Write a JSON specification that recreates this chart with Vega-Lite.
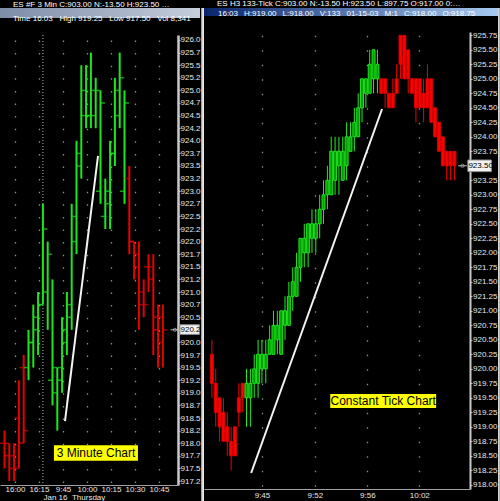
{
  "$schema": "https://vega.github.io/schema/vega-lite/v6.json",
  "background": "#000000",
  "padding": 0,
  "spacing": 0,
  "config": {
    "view": {"stroke": null, "fill": "#000000"},
    "font": "Liberation Sans",
    "axis": {"labelOverlap": false, "labelFlush": false, "labelBound": false}
  },
  "datasets": {
    "threeMin": [
      {"i": 0, "o": 918.0, "h": 918.25, "l": 917.5, "c": 917.75},
      {"i": 1, "o": 918.0, "h": 918.0, "l": 917.25, "c": 917.5},
      {"i": 2, "o": 917.75, "h": 918.0, "l": 917.25, "c": 917.5},
      {"i": 3, "o": 918.5, "h": 919.25, "l": 917.5, "c": 918.0},
      {"i": 4, "o": 919.5, "h": 919.75, "l": 918.0, "c": 918.25},
      {"i": 5, "o": 919.5, "h": 920.25, "l": 919.25, "c": 920.0},
      {"i": 6, "o": 920.0, "h": 920.75, "l": 919.5, "c": 920.5},
      {"i": 7, "o": 920.25, "h": 921.0, "l": 919.75, "c": 920.75},
      {"i": 8, "o": 920.75, "h": 922.75, "l": 920.75, "c": 922.25},
      {"i": 9, "o": 921.0, "h": 922.0, "l": 920.25, "c": 921.75},
      {"i": 10, "o": 919.25, "h": 921.25, "l": 918.75, "c": 919.5},
      {"i": 11, "o": 919.0, "h": 919.5, "l": 918.25, "c": 919.25},
      {"i": 12, "o": 919.5, "h": 920.5, "l": 919.0, "c": 920.25},
      {"i": 13, "o": 920.0, "h": 921.0, "l": 919.75, "c": 920.75},
      {"i": 14, "o": 920.5, "h": 922.75, "l": 920.25, "c": 922.5},
      {"i": 15, "o": 922.0, "h": 924.0, "l": 921.75, "c": 923.75},
      {"i": 16, "o": 923.5, "h": 925.5, "l": 923.25, "c": 925.0},
      {"i": 17, "o": 924.5, "h": 925.5, "l": 924.25, "c": 924.5},
      {"i": 18, "o": 924.5, "h": 925.75, "l": 924.25, "c": 925.0},
      {"i": 19, "o": 924.5, "h": 925.25, "l": 924.25, "c": 925.0},
      {"i": 20, "o": 923.0, "h": 925.0, "l": 922.75, "c": 924.75},
      {"i": 21, "o": 922.5, "h": 923.25, "l": 922.25, "c": 923.0},
      {"i": 22, "o": 922.75, "h": 924.0, "l": 922.25, "c": 923.75},
      {"i": 23, "o": 923.75, "h": 925.25, "l": 923.5, "c": 925.0},
      {"i": 24, "o": 924.5, "h": 925.75, "l": 924.25, "c": 925.25},
      {"i": 25, "o": 923.0, "h": 925.0, "l": 922.75, "c": 924.75},
      {"i": 26, "o": 923.25, "h": 923.5, "l": 921.75, "c": 922.0},
      {"i": 27, "o": 922.0, "h": 922.0, "l": 921.25, "c": 921.5},
      {"i": 28, "o": 921.75, "h": 922.0, "l": 920.25, "c": 920.75},
      {"i": 29, "o": 921.0, "h": 921.25, "l": 920.5, "c": 920.75},
      {"i": 30, "o": 921.5, "h": 921.75, "l": 921.0, "c": 921.25},
      {"i": 31, "o": 921.5, "h": 921.75, "l": 919.75, "c": 920.25},
      {"i": 32, "o": 920.5, "h": 920.75, "l": 919.5, "c": 920.0},
      {"i": 33, "o": 920.5, "h": 920.75, "l": 919.5, "c": 920.25}
    ],
    "tick133": [
      {"j": 0, "o": 920.25, "h": 920.5, "l": 919.5, "c": 919.75},
      {"j": 1, "o": 919.75, "h": 920.0, "l": 919.0, "c": 919.25},
      {"j": 2, "o": 919.5, "h": 919.5, "l": 918.75, "c": 919.0},
      {"j": 3, "o": 919.25, "h": 919.5, "l": 918.75, "c": 918.75},
      {"j": 4, "o": 919.0, "h": 919.25, "l": 918.5, "c": 918.75},
      {"j": 5, "o": 918.75, "h": 919.0, "l": 918.25, "c": 918.5},
      {"j": 6, "o": 919.0, "h": 919.0, "l": 918.5, "c": 918.5},
      {"j": 7, "o": 919.5, "h": 919.75, "l": 919.0, "c": 919.25},
      {"j": 8, "o": 919.75, "h": 919.75, "l": 919.25, "c": 919.5},
      {"j": 9, "o": 919.5, "h": 920.0, "l": 919.0, "c": 919.75},
      {"j": 10, "o": 919.5, "h": 920.0, "l": 919.0, "c": 919.75},
      {"j": 11, "o": 919.75, "h": 920.25, "l": 919.5, "c": 920.0},
      {"j": 12, "o": 919.75, "h": 920.5, "l": 919.5, "c": 920.25},
      {"j": 13, "o": 920.0, "h": 920.5, "l": 919.75, "c": 920.25},
      {"j": 14, "o": 920.0, "h": 920.5, "l": 919.75, "c": 920.25},
      {"j": 15, "o": 920.25, "h": 920.75, "l": 920.25, "c": 920.5},
      {"j": 16, "o": 920.25, "h": 921.0, "l": 920.25, "c": 920.75},
      {"j": 17, "o": 920.5, "h": 921.0, "l": 920.25, "c": 920.75},
      {"j": 18, "o": 920.25, "h": 921.0, "l": 920.25, "c": 921.0},
      {"j": 19, "o": 920.75, "h": 921.25, "l": 920.5, "c": 921.0},
      {"j": 20, "o": 920.75, "h": 921.5, "l": 920.75, "c": 921.25},
      {"j": 21, "o": 921.25, "h": 921.75, "l": 921.0, "c": 921.5},
      {"j": 22, "o": 921.25, "h": 922.0, "l": 921.25, "c": 921.75},
      {"j": 23, "o": 921.75, "h": 922.25, "l": 921.5, "c": 922.25},
      {"j": 24, "o": 922.0, "h": 922.5, "l": 921.75, "c": 922.25},
      {"j": 25, "o": 922.0, "h": 922.5, "l": 921.75, "c": 922.5},
      {"j": 26, "o": 922.25, "h": 922.75, "l": 922.0, "c": 922.5},
      {"j": 27, "o": 922.25, "h": 922.75, "l": 922.0, "c": 922.5},
      {"j": 28, "o": 922.5, "h": 923.0, "l": 922.25, "c": 922.75},
      {"j": 29, "o": 922.75, "h": 923.25, "l": 922.5, "c": 923.0},
      {"j": 30, "o": 923.0, "h": 923.5, "l": 922.75, "c": 923.25},
      {"j": 31, "o": 923.0, "h": 924.0, "l": 923.0, "c": 923.75},
      {"j": 32, "o": 923.25, "h": 924.0, "l": 923.0, "c": 923.75},
      {"j": 33, "o": 923.5, "h": 924.0, "l": 923.0, "c": 923.75},
      {"j": 34, "o": 923.25, "h": 924.0, "l": 923.25, "c": 923.75},
      {"j": 35, "o": 923.5, "h": 924.25, "l": 923.25, "c": 924.0},
      {"j": 36, "o": 923.75, "h": 924.25, "l": 923.75, "c": 924.0},
      {"j": 37, "o": 924.0, "h": 924.5, "l": 923.75, "c": 924.25},
      {"j": 38, "o": 924.0, "h": 924.75, "l": 924.0, "c": 924.5},
      {"j": 39, "o": 924.5, "h": 925.0, "l": 924.25, "c": 925.0},
      {"j": 40, "o": 924.75, "h": 925.0, "l": 924.5, "c": 925.0},
      {"j": 41, "o": 924.75, "h": 925.5, "l": 924.75, "c": 925.25},
      {"j": 42, "o": 925.0, "h": 925.5, "l": 924.75, "c": 925.5},
      {"j": 43, "o": 925.0, "h": 925.5, "l": 924.75, "c": 925.25},
      {"j": 44, "o": 925.0, "h": 925.0, "l": 924.75, "c": 924.75},
      {"j": 45, "o": 925.0, "h": 925.0, "l": 924.5, "c": 924.75},
      {"j": 46, "o": 924.75, "h": 924.75, "l": 924.5, "c": 924.5},
      {"j": 47, "o": 924.75, "h": 925.0, "l": 924.5, "c": 924.5},
      {"j": 48, "o": 925.0, "h": 925.25, "l": 924.75, "c": 924.75},
      {"j": 49, "o": 925.75, "h": 925.75, "l": 925.0, "c": 925.25},
      {"j": 50, "o": 925.75, "h": 925.75, "l": 925.0, "c": 925.0},
      {"j": 51, "o": 925.5, "h": 925.5, "l": 924.75, "c": 925.0},
      {"j": 52, "o": 925.0, "h": 925.0, "l": 924.75, "c": 924.75},
      {"j": 53, "o": 925.0, "h": 925.0, "l": 924.25, "c": 924.5},
      {"j": 54, "o": 925.0, "h": 925.0, "l": 924.5, "c": 924.5},
      {"j": 55, "o": 924.75, "h": 925.0, "l": 924.25, "c": 924.5},
      {"j": 56, "o": 925.0, "h": 925.25, "l": 924.5, "c": 924.5},
      {"j": 57, "o": 925.0, "h": 925.0, "l": 924.25, "c": 924.25},
      {"j": 58, "o": 924.5, "h": 924.5, "l": 924.0, "c": 924.0},
      {"j": 59, "o": 924.25, "h": 924.25, "l": 923.75, "c": 923.75},
      {"j": 60, "o": 924.0, "h": 924.0, "l": 923.5, "c": 923.5},
      {"j": 61, "o": 923.75, "h": 923.75, "l": 923.25, "c": 923.5},
      {"j": 62, "o": 923.75, "h": 923.75, "l": 923.25, "c": 923.5},
      {"j": 63, "o": 923.75, "h": 923.75, "l": 923.25, "c": 923.5}
    ]
  },
  "hconcat": [
    {
      "vconcat": [
        {
          "width": 200,
          "height": 10,
          "data": {"values": [{}]},
          "mark": {"type": "rect", "color": {"gradient": "linear", "x1": 0, "x2": 1, "y1": 0, "y2": 0, "stops": [{"offset": 0, "color": "#7d8ca8"}, {"offset": 1, "color": "#c6cedc"}]}},
          "title": {"text": "ES #F 3 Min C:903.00 N:-13.50 H:923.50 L:897.75 O:917.00", "limit": 160, "frame": "group", "anchor": "start", "orient": "top", "offset": -5, "baseline": "middle", "dx": 13, "fontSize": 8, "fontWeight": "normal", "color": "#ffffff"}
        },
        {
          "width": 178,
          "height": 450,
          "title": {"text": "Time 16:03\u00a0\u00a0\u00a0High 919.25\u00a0\u00a0\u00a0Low 917.50\u00a0\u00a0\u00a0Vol 8,341", "frame": "group", "anchor": "start", "orient": "top", "offset": 4, "baseline": "bottom", "dx": 13, "fontSize": 8, "fontWeight": "normal", "color": "#ffffff"},
          "layer": [
            {
              "data": {"values": [{"i": 8}]},
              "mark": {"type": "rule", "color": "#b8b8b8", "strokeDash": [1, 2], "strokeWidth": 1},
              "encoding": {
                "x": {
                  "field": "i", "type": "quantitative",
                  "scale": {"domain": [-0.9375, 36.1458], "nice": false, "zero": false},
                  "axis": {
                    "values": [2.1875, 7.1875, 12.1875, 17.1875, 22.1875, 27.1875, 32.1875],
                    "tickCount": 100,
                    "labelExpr": "['16:00','16:15','9:45','10:00','10:15','10:30','10:45'][round((datum.value - 2.1875) / 5)]",
                    "grid": true, "gridColor": "#7a9a7a", "gridDash": [1.5, 11.1], "gridDashOffset": 7.6, "gridWidth": 1.3,
                    "ticks": false, "domainColor": "#a0a0a0", "domainWidth": 1,
                    "labelColor": "#e8e8e8", "labelFontSize": 8, "labelPadding": 0,
                    "labelFlush": false, "labelOverlap": false, "labelBound": false,
                    "title": "Jan 16\u00a0\u00a0Thursday", "titleX": 43, "titleAlign": "left", "titleFontSize": 8, "titleFontWeight": "normal",
                    "titleColor": "#e8e8e8", "titlePadding": 0
                  }
                }
              }
            },
            {
              "data": {"name": "threeMin"},
              "mark": {"type": "rule", "strokeWidth": 2},
              "encoding": {
                "x": {"field": "i", "type": "quantitative"},
                "y": {
                  "field": "l", "type": "quantitative",
                  "scale": {"domain": [917.171, 926.099], "nice": false, "zero": false},
                  "axis": {
                    "orient": "right",
                    "values": [917.25, 917.5, 917.75, 918, 918.25, 918.5, 918.75, 919, 919.25, 919.5, 919.75, 920, 920.25, 920.5, 920.75, 921, 921.25, 921.5, 921.75, 922, 922.25, 922.5, 922.75, 923, 923.25, 923.5, 923.75, 924, 924.25, 924.5, 924.75, 925, 925.25, 925.5, 925.75, 926],
                    "tickCount": 100,
                    "labelExpr": "datum.value == 920.25 ? '' : slice(format(datum.value, '.2f'), 0, 5)",
                    "title": null, "grid": false,
                    "domainColor": "#c8c8c8", "domainWidth": 2.5, "tickColor": "#c8c8c8", "tickSize": 2,
                    "labelPadding": 0, "labelColor": "#e8e8e8", "labelFontSize": 8,
                    "labelOverlap": false, "labelFlush": false, "labelBound": false
                  }
                },
                "y2": {"field": "h"},
                "color": {"condition": {"test": "datum.c >= datum.o", "value": "#1ee61e"}, "value": "#e60000"}
              }
            },
            {
              "data": {"name": "threeMin"},
              "mark": {"type": "tick", "orient": "horizontal", "size": 4, "thickness": 1.5, "xOffset": -2.5},
              "encoding": {
                "x": {"field": "i", "type": "quantitative"},
                "y": {"field": "o", "type": "quantitative"},
                "color": {"condition": {"test": "datum.c >= datum.o", "value": "#1ee61e"}, "value": "#e60000"}
              }
            },
            {
              "data": {"name": "threeMin"},
              "mark": {"type": "tick", "orient": "horizontal", "size": 4, "thickness": 1.5, "xOffset": 2.5},
              "encoding": {
                "x": {"field": "i", "type": "quantitative"},
                "y": {"field": "c", "type": "quantitative"},
                "color": {"condition": {"test": "datum.c >= datum.o", "value": "#1ee61e"}, "value": "#e60000"}
              }
            },
            {
              "data": {"values": [{"i": 12.6, "p": 918.44}, {"i": 19.48, "p": 923.7}]},
              "mark": {"type": "line", "color": "#f4f4f4", "strokeWidth": 2},
              "encoding": {
                "x": {"field": "i", "type": "quantitative"},
                "y": {"field": "p", "type": "quantitative"}
              }
            },
            {
              "data": {"values": [{"label": "3 Minute Chart", "i": 19.06, "p": 917.805}]},
              "layer": [
                {
                  "mark": {"type": "rect", "color": "#ffff00"},
                  "encoding": {
                    "x": {"datum": 10.3, "type": "quantitative"},
                    "x2": {"datum": 27.8},
                    "y": {"datum": 917.96, "type": "quantitative"},
                    "y2": {"datum": 917.65}
                  }
                },
                {
                  "mark": {"type": "text", "color": "#000000", "fontSize": 12, "font": "Liberation Sans"},
                  "encoding": {
                    "x": {"field": "i", "type": "quantitative"},
                    "y": {"field": "p", "type": "quantitative"},
                    "text": {"field": "label"}
                  }
                }
              ]
            },
            {
              "data": {"values": [{"p": 920.25}]},
              "transform": [{"calculate": "slice(format(datum.p, '.2f'), 0, 5)", "as": "lbl"}],
              "layer": [
                {
                  "mark": {"type": "rule", "color": "#c0c0c0", "strokeWidth": 1},
                  "encoding": {
                    "x": {"datum": 34.6, "type": "quantitative"},
                    "x2": {"datum": 36.2},
                    "y": {"field": "p", "type": "quantitative"}
                  }
                },
                {
                  "mark": {"type": "point", "shape": "circle", "size": 10, "filled": false, "color": "#c0c0c0", "strokeWidth": 1},
                  "encoding": {
                    "x": {"datum": 35.5, "type": "quantitative"},
                    "y": {"field": "p", "type": "quantitative"}
                  }
                },
                {
                  "mark": {"type": "rect", "color": "#f2f2f2", "stroke": "#909090", "strokeWidth": 1},
                  "encoding": {
                    "x": {"datum": 36.56, "type": "quantitative"},
                    "x2": {"datum": 40.6},
                    "y": {"datum": 920.35, "type": "quantitative"},
                    "y2": {"datum": 920.16}
                  }
                },
                {
                  "mark": {"type": "text", "color": "#000000", "fontSize": 8, "align": "left", "dx": 0.5},
                  "encoding": {
                    "x": {"datum": 36.56, "type": "quantitative"},
                    "y": {"field": "p", "type": "quantitative"},
                    "text": {"field": "lbl"}
                  }
                }
              ]
            }
          ]
        },
        {
          "width": 200,
          "height": 7,
          "data": {"values": [{}]},
          "mark": {"type": "rect", "color": {"gradient": "linear", "x1": 0, "x2": 0, "y1": 0, "y2": 1, "stops": [{"offset": 0, "color": "#d4d4d4"}, {"offset": 0.3, "color": "#9a9a9a"}, {"offset": 1, "color": "#5a5a5a"}]}}
        }
      ],
      "spacing": 17,
      "bounds": "flush"
    },
    {
      "width": 3,
      "height": 501,
      "data": {"values": [{}]},
      "mark": {"type": "rect", "color": {"gradient": "linear", "x1": 0, "x2": 1, "y1": 0, "y2": 0, "stops": [{"offset": 0, "color": "#8a8a8a"}, {"offset": 0.5, "color": "#d8d8d8"}, {"offset": 1, "color": "#f0f0f0"}]}}
    },
    {
      "vconcat": [
        {
          "width": 294,
          "height": 8,
          "data": {"values": [{}]},
          "mark": {"type": "rect", "color": {"gradient": "linear", "x1": 0, "x2": 1, "y1": 0, "y2": 0, "stops": [{"offset": 0, "color": "#0a246a"}, {"offset": 1, "color": "#a6caf0"}]}},
          "title": {"text": "ES H3 133-Tick C:903.00 N:-13.50 H:923.50 L:897.75 O:917.00 0:903.25 V:2,413", "limit": 245, "frame": "group", "anchor": "start", "orient": "top", "offset": -4, "baseline": "middle", "dx": 13, "fontSize": 8, "fontWeight": "normal", "color": "#ffffff"}
        },
        {
          "width": 266,
          "height": 457,
          "title": {"text": "16:03\u00a0\u00a0\u2009H:919.00\u00a0\u00a0\u2009L:918.00\u00a0\u00a0\u2009V:133\u00a0\u00a0\u200901-15-03\u00a0\u00a0\u2009M:1\u00a0\u00a0\u2009C:918.00\u00a0\u00a0\u2009O:918.75", "frame": "group", "anchor": "start", "orient": "top", "offset": 5, "baseline": "bottom", "dx": 14, "fontSize": 8, "fontWeight": "normal", "color": "#ffffff"},
          "layer": [
            {
              "data": {"name": "tick133"},
              "mark": {"type": "rule", "strokeWidth": 1},
              "encoding": {
                "x": {
                  "field": "j", "type": "quantitative",
                  "scale": {"domain": [-0.75, 65.75], "nice": false, "zero": false},
                  "axis": {
                    "values": [13, 26.75, 40.375, 53.875],
                    "tickCount": 100,
                    "labelExpr": "datum.value < 20 ? '9:45' : datum.value < 33 ? '9:52' : datum.value < 47 ? '9:56' : '10:02'",
                    "grid": true, "gridColor": "#7a9a7a", "gridDash": [1.5, 13.0], "gridDashOffset": 11.2, "gridWidth": 1.3,
                    "ticks": false, "domainColor": "#a0a0a0", "domainWidth": 1,
                    "labelColor": "#e8e8e8", "labelFontSize": 8, "labelPadding": 2,
                    "labelFlush": false, "labelOverlap": false, "labelBound": false, "title": null
                  }
                },
                "y": {
                  "field": "l", "type": "quantitative",
                  "scale": {"domain": [917.928, 925.807], "nice": false, "zero": false},
                  "axis": {
                    "orient": "right",
                    "values": [918, 918.25, 918.5, 918.75, 919, 919.25, 919.5, 919.75, 920, 920.25, 920.5, 920.75, 921, 921.25, 921.5, 921.75, 922, 922.25, 922.5, 922.75, 923, 923.25, 923.5, 923.75, 924, 924.25, 924.5, 924.75, 925, 925.25, 925.5, 925.75],
                    "tickCount": 100,
                    "labelExpr": "datum.value == 923.5 ? '' : format(datum.value, '.2f')",
                    "title": null, "grid": false,
                    "domainColor": "#c8c8c8", "domainWidth": 2, "tickColor": "#c8c8c8", "tickSize": 2,
                    "labelPadding": 0.5, "labelColor": "#e8e8e8", "labelFontSize": 8,
                    "labelOverlap": false, "labelFlush": false, "labelBound": false
                  }
                },
                "y2": {"field": "h"},
                "color": {"condition": {"test": "datum.c >= datum.o", "value": "#22f022"}, "value": "#f00000"}
              }
            },
            {
              "data": {"name": "tick133"},
              "mark": {"type": "bar", "size": 3, "strokeWidth": 1},
              "encoding": {
                "x": {"field": "j", "type": "quantitative"},
                "y": {"field": "o", "type": "quantitative"},
                "y2": {"field": "c"},
                "fill": {"condition": {"test": "datum.c >= datum.o", "value": "#00a000"}, "value": "#ff0000"},
                "stroke": {"condition": {"test": "datum.c >= datum.o", "value": "#22e022"}, "value": "#d40000"}
              }
            },
            {
              "data": {"values": [{"j": 10.2, "p": 918.204}, {"j": 44.2, "p": 924.48}]},
              "mark": {"type": "line", "color": "#f4f4f4", "strokeWidth": 2},
              "encoding": {
                "x": {"field": "j", "type": "quantitative"},
                "y": {"field": "p", "type": "quantitative"}
              }
            },
            {
              "data": {"values": [{"label": "Constant Tick Chart", "j": 44.5, "p": 919.445}]},
              "layer": [
                {
                  "mark": {"type": "rect", "color": "#ffff00"},
                  "encoding": {
                    "x": {"datum": 30.75, "type": "quantitative"},
                    "x2": {"datum": 58.25},
                    "y": {"datum": 919.566, "type": "quantitative"},
                    "y2": {"datum": 919.324}
                  }
                },
                {
                  "mark": {"type": "text", "color": "#000000", "fontSize": 12, "font": "Liberation Sans"},
                  "encoding": {
                    "x": {"field": "j", "type": "quantitative"},
                    "y": {"field": "p", "type": "quantitative"},
                    "text": {"field": "label"}
                  }
                }
              ]
            },
            {
              "data": {"values": [{"p": 923.5}]},
              "layer": [
                {
                  "mark": {"type": "rule", "color": "#c0c0c0", "strokeWidth": 1},
                  "encoding": {
                    "x": {"datum": 64.0, "type": "quantitative"},
                    "x2": {"datum": 66.2},
                    "y": {"field": "p", "type": "quantitative"}
                  }
                },
                {
                  "mark": {"type": "point", "shape": "circle", "size": 10, "filled": false, "color": "#c0c0c0", "strokeWidth": 1},
                  "encoding": {
                    "x": {"datum": 65.1, "type": "quantitative"},
                    "y": {"field": "p", "type": "quantitative"}
                  }
                },
                {
                  "mark": {"type": "rect", "color": "#f2f2f2", "stroke": "#909090", "strokeWidth": 1},
                  "encoding": {
                    "x": {"datum": 66.5, "type": "quantitative"},
                    "x2": {"datum": 72.6},
                    "y": {"datum": 923.6, "type": "quantitative"},
                    "y2": {"datum": 923.4}
                  }
                },
                {
                  "mark": {"type": "text", "color": "#000000", "fontSize": 8, "align": "left", "dx": 0.5},
                  "encoding": {
                    "x": {"datum": 66.5, "type": "quantitative"},
                    "y": {"field": "p", "type": "quantitative"},
                    "text": {"field": "p", "format": ".2f"}
                  }
                }
              ]
            }
          ]
        },
        {
          "width": 294,
          "height": 4,
          "data": {"values": [{}]},
          "mark": {"type": "rect", "color": {"gradient": "linear", "x1": 0, "x2": 0, "y1": 0, "y2": 1, "stops": [{"offset": 0, "color": "#d4d4d4"}, {"offset": 1, "color": "#7a7a7a"}]}}
        }
      ],
      "spacing": 16,
      "bounds": "flush"
    },
    {
      "width": 3,
      "height": 501,
      "data": {"values": [{}]},
      "mark": {"type": "rect", "color": {"gradient": "linear", "x1": 0, "x2": 1, "y1": 0, "y2": 0, "stops": [{"offset": 0, "color": "#e8e8e8"}, {"offset": 1, "color": "#7a7a7a"}]}}
    }
  ]
}
